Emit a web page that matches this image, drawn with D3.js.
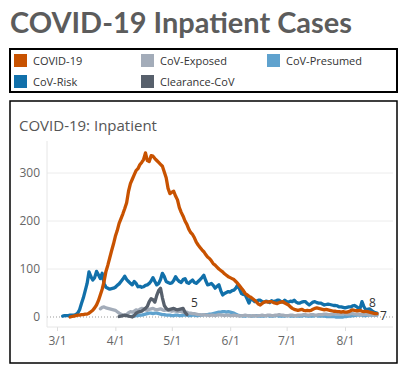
<!DOCTYPE html>
<html>
<head>
<meta charset="utf-8">
<script src="https://cdn.jsdelivr.net/npm/d3@7"></script>
<style>
  body { margin: 0; background: #fff; }
  svg { display: block; font-family: "Open Sans", "Noto Sans", sans-serif; }
</style>
</head>
<body>
<svg id="chart" width="400" height="370"></svg>
<script>
// Series names and colours (Tableau "Color Blind")
const seriesNames = ["COVID-19", "CoV-Exposed", "CoV-Presumed", "CoV-Risk", "Clearance-CoV"];
const seriesColors = ["#c85200", "#a3acb9", "#5fa2ce", "#1170aa", "#57606c"];

// Daily values, each series starts on its own date
const covidStart = "2020-03-08";
const covidValues = [
  0, 1, 2, 3, 4, 4, 5, 5, 6, 6,
  8, 11, 14, 19, 25, 34, 46, 58, 74, 95,
  108, 123, 138, 152, 168, 180, 195, 205, 215, 226,
  238, 262, 278, 287, 296, 305, 309, 317, 322, 328,
  342, 326, 324, 336, 335, 330, 326, 322, 318, 314,
  302, 290, 268, 257, 260, 262, 252, 244, 228, 218,
  210, 200, 193, 183, 176, 172, 165, 156, 150, 145,
  140, 136, 130, 125, 122, 117, 111, 108, 104, 100,
  97, 94, 90, 87, 84, 82, 80, 78, 74, 70,
  65, 60, 55, 49, 46, 43, 41, 38, 35, 31,
  27, 25, 28, 31, 32, 31, 32, 32, 30, 29,
  28, 30, 31, 32, 29, 27, 25, 21, 18, 16,
  15, 14, 15, 16, 14, 13, 14, 13, 14, 16,
  18, 19, 18, 17, 16, 15, 16, 15, 14, 13,
  12, 12, 11, 11, 10, 11, 10, 10, 11, 13,
  15, 14, 13, 13, 14, 12, 11, 12, 11, 10,
  9, 8, 7, 7
];

const riskStart = "2020-03-04";
const riskValues = [
  2, 3, 3, 3, 4, 4, 4, 5, 8, 15,
  28, 40, 55, 70, 94, 84, 77, 82, 95, 88,
  80, 91, 70, 62, 60, 58, 59, 60, 62, 66,
  69, 74, 79, 85, 78, 74, 70, 67, 74, 70,
  63, 64, 62, 63, 66, 67, 70, 75, 82, 74,
  67, 70, 78, 91, 84, 74, 72, 70, 71, 76,
  84, 78, 74, 72, 78, 80, 72, 70, 74, 77,
  72, 70, 74, 78, 82, 87, 76, 67, 68, 70,
  66, 60, 64, 67, 55, 46, 49, 51, 53, 52,
  55, 56, 60, 67, 58, 49, 47, 46, 38, 29,
  39, 36, 32, 33, 35, 35, 32, 31, 33, 32,
  30, 34, 32, 33, 35, 35, 32, 31, 35, 32,
  31, 33, 32, 35, 31, 29, 29, 31, 32, 32,
  28, 25, 28, 31, 32, 30, 29, 29, 27, 25,
  26, 27, 26, 25, 24, 24, 23, 21, 21, 20,
  19, 20, 21, 21, 23, 24, 22, 19, 18, 32,
  22, 15, 16, 17, 14, 11, 9, 8
];

const exposedStart = "2020-03-24";
const exposedValues = [
  17, 20, 21, 19, 18, 17, 16, 15, 14, 11,
  8, 6, 4, 3, 5, 9, 11, 10, 12, 15,
  13, 16, 18, 17, 15, 14, 16, 17, 18, 16,
  15, 16, 17, 15, 14, 15, 14, 13, 12, 13,
  12, 11, 12, 11, 10, 9, 10, 8, 8, 7,
  7, 6, 5, 5, 4, 5, 4, 4, 3, 4,
  4, 3, 4, 5, 4, 4, 3, 4, 4, 3,
  3, 4, 3, 3, 2, 3, 3, 4, 3, 3,
  2, 3, 3, 2, 3, 3, 4, 3, 3, 4,
  4, 3, 3, 4, 4, 5, 4, 4, 3, 3,
  3, 4, 4, 3, 3, 4, 4, 4, 5, 5,
  4, 4, 5, 5, 4, 4, 5, 5, 5, 6,
  6, 5, 5, 6, 6, 7, 7, 6, 6, 7,
  7, 6, 6, 7, 7, 6, 6, 6, 5, 5,
  5, 6, 5, 5, 5, 4, 4, 4
];

const clearanceStart = "2020-04-03";
const clearanceValues = [
  1, 2, 3, 4, 3, 2, 1, 0, 3, 8,
  10, 11, 12, 15, 18, 22, 32, 38, 36, 31,
  45, 55, 60, 40, 24, 18, 15, 16, 17, 18,
  16, 15, 16, 17, 18, 10, 5
];

const presumedStart = "2020-04-10";
const presumedValues = [
  2, 2, 3, 3, 4, 4, 5, 6, 7, 8,
  8, 7, 8, 8, 7, 6, 5, 5, 4, 4,
  4, 3, 3, 4, 4, 3, 3, 4, 4, 4,
  3, 3, 4, 4, 3, 3, 4, 4, 5, 5,
  5, 6, 6, 7, 8, 9, 10, 10, 11, 11,
  10, 11, 10, 9, 8, 6, 4, 3, 3, 2,
  2, 3, 3, 2, 2, 3, 3, 2, 2, 2,
  2, 3, 3, 2, 2, 2, 3, 3, 2, 2,
  2, 2, 3, 3, 2, 2, 2, 3, 2, 2,
  2, 3, 3, 2, 2, 2, 2, 3, 3, 2,
  2, 2, 2, 1, 1, 1, 1, 1, 0, 0,
  0, 0, 0, 1, 1, 2, 2, 3, 3, 4,
  4, 4, 4, 3, 3, 4, 4, 4, 4, 4, 4
];

const xTickDates = ["2020-03-01", "2020-04-01", "2020-05-01", "2020-06-01", "2020-07-01", "2020-08-01"];
const yTicks = [0, 100, 200, 300];

const parseDate = d3.timeParse("%Y-%m-%d");
const fmt = d3.timeFormat("%-m/%-d");

function toPoints(start, values) {
  const s = parseDate(start);
  return values.map((v, i) => ({ date: d3.timeDay.offset(s, i), value: v }));
}

// drawing order: bottom to top
const series = [
  { name: "CoV-Presumed", pts: toPoints(presumedStart, presumedValues) },
  { name: "CoV-Exposed", pts: toPoints(exposedStart, exposedValues) },
  { name: "Clearance-CoV", pts: toPoints(clearanceStart, clearanceValues), label: [4, -8] },
  { name: "CoV-Risk", pts: toPoints(riskStart, riskValues), label: [-8, -6] },
  { name: "COVID-19", pts: toPoints(covidStart, covidValues), label: [3, 6] }
];
const color = d3.scaleOrdinal().domain(seriesNames).range(seriesColors);

const svg = d3.select("#chart");

// Title, fitted to the width it has in the original
const title = svg.append("text")
  .attr("x", 10)
  .attr("y", 33)
  .style("font-family", "Lato, 'Open Sans', sans-serif")
  .style("font-size", "28px")
  .style("font-weight", "bold")
  .style("fill", "#5c5c5c")
  .text("COVID-19 Inpatient Cases");
const tw = title.node().getComputedTextLength();
title.style("font-size", (28 * 342 / tw).toFixed(2) + "px");

// Legend box
svg.append("rect")
  .attr("x", 10).attr("y", 49)
  .attr("width", 387).attr("height", 43)
  .attr("fill", "none").attr("stroke", "#000").attr("stroke-width", 2);

const legendCols = [14, 141, 267];
const legendRows = [54, 75];
seriesNames.forEach((name, i) => {
  const g = svg.append("g")
    .attr("transform", `translate(${legendCols[i % 3]}, ${legendRows[Math.floor(i / 3)]})`);
  g.append("rect").attr("width", 13).attr("height", 13).attr("fill", color(name));
  g.append("text")
    .attr("x", 19).attr("y", 11)
    .style("font-size", "11px")
    .style("fill", "#333")
    .text(name);
});

// Chart box
svg.append("rect")
  .attr("x", 10).attr("y", 101)
  .attr("width", 387).attr("height", 262)
  .attr("fill", "none").attr("stroke", "#000").attr("stroke-width", 1.5);

svg.append("text")
  .attr("x", 19).attr("y", 131)
  .style("font-size", "15px")
  .style("fill", "#555")
  .text("COVID-19: Inpatient");

// Scales: anchored on tick positions, then stretched to the pane
const pane = { left: 47, right: 393, top: 141, bottom: 327 };
const x0 = d3.scaleTime()
  .domain([parseDate("2020-03-01"), parseDate("2020-08-01")])
  .range([57, 345]);
const x = d3.scaleTime()
  .domain([x0.invert(pane.left), x0.invert(pane.right)])
  .range([pane.left, pane.right]);
const y0 = d3.scaleLinear().domain([0, 300]).range([317, 173]);
const y = d3.scaleLinear()
  .domain([y0.invert(pane.bottom), y0.invert(pane.top)])
  .range([pane.bottom, pane.top]);

// gridlines
svg.append("g")
  .selectAll("line")
  .data(yTicks.filter((t) => t > 0))
  .enter()
  .append("line")
  .attr("x1", pane.left).attr("x2", pane.right)
  .attr("y1", (d) => y(d)).attr("y2", (d) => y(d))
  .attr("stroke", "#ececec").attr("stroke-width", 1);

// zero line
svg.append("line")
  .attr("x1", pane.left).attr("x2", pane.right)
  .attr("y1", y(0)).attr("y2", y(0))
  .attr("stroke", "#999").attr("stroke-width", 1)
  .attr("stroke-dasharray", "1,2");

// Y axis
const yAxis = svg.append("g")
  .attr("transform", `translate(${pane.left},0)`)
  .call(d3.axisLeft(y).tickValues(yTicks).tickSize(0).tickPadding(7));
yAxis.select(".domain").remove();
yAxis.selectAll("text").style("font-size", "12px").style("fill", "#666")
  .style("font-family", "'Open Sans', sans-serif");
svg.append("line")
  .attr("x1", pane.left).attr("x2", pane.left)
  .attr("y1", pane.top).attr("y2", pane.bottom)
  .attr("stroke", "#e6e6e6").attr("stroke-width", 1);

// X axis
const xAxis = svg.append("g")
  .attr("transform", `translate(0,${pane.bottom})`)
  .call(d3.axisBottom(x).tickValues(xTickDates.map(parseDate)).tickFormat(fmt).tickSize(4).tickPadding(5));
xAxis.select(".domain").remove();
xAxis.selectAll(".tick line").attr("stroke", "#ddd");
xAxis.selectAll("text").style("font-size", "12px").style("fill", "#666")
  .style("font-family", "'Open Sans', sans-serif");
svg.append("line")
  .attr("x1", pane.left).attr("x2", pane.right)
  .attr("y1", pane.bottom).attr("y2", pane.bottom)
  .attr("stroke", "#e6e6e6").attr("stroke-width", 1);

// Lines
const line = d3.line()
  .x((d) => x(d.date))
  .y((d) => y(d.value));

svg.append("g")
  .selectAll("path")
  .data(series)
  .enter()
  .append("path")
  .attr("d", (d) => line(d.pts))
  .attr("fill", "none")
  .attr("stroke", (d) => color(d.name))
  .attr("stroke-width", 3.3)
  .attr("stroke-linejoin", "round")
  .attr("stroke-linecap", "round");

// end labels
svg.append("g")
  .selectAll("text")
  .data(series.filter((s) => s.label))
  .enter()
  .append("text")
  .attr("x", (d) => x(d.pts[d.pts.length - 1].date) + d.label[0])
  .attr("y", (d) => y(d.pts[d.pts.length - 1].value) + d.label[1])
  .style("font-size", "12px")
  .style("fill", "#333")
  .text((d) => d.pts[d.pts.length - 1].value);
</script>
</body>
</html>
